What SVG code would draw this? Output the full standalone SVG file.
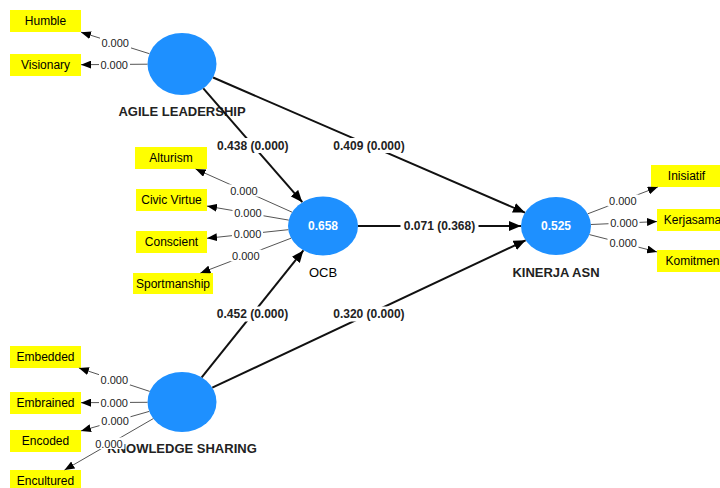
<svg xmlns="http://www.w3.org/2000/svg" width="720" height="488" viewBox="0 0 720 488">
<style>
text{font-family:"Liberation Sans",Arial,sans-serif;fill:#000}
.lv{fill:#1E90FF}
.ind{fill:#FFFF00}
.it{font-size:12px;text-anchor:middle}
.nl{font-size:13px;font-weight:bold;text-anchor:middle;fill:#222}
.r2{font-size:12px;font-weight:bold;text-anchor:middle;fill:#fff}
.ld{stroke:#555;stroke-width:1;fill:none;marker-end:url(#as)}
.pth{stroke:#111;stroke-width:2;fill:none;marker-end:url(#al)}
.lt{font-size:11px;text-anchor:middle;fill:#222}
.pt{font-size:12px;font-weight:bold;text-anchor:middle;fill:#222}
.bg{fill:#fff}
</style>
<defs>
<marker id="as" markerUnits="userSpaceOnUse" markerWidth="10" markerHeight="8" refX="10" refY="4" orient="auto">
<path d="M0,0 L10,4 L0,8 Z" fill="#000"/>
</marker>
<marker id="al" markerUnits="userSpaceOnUse" markerWidth="12" markerHeight="10" refX="12" refY="5" orient="auto">
<path d="M0,0 L12,5 L0,10 Z" fill="#000"/>
</marker>
</defs>
<rect width="720" height="488" fill="#fff"/>
<g id="nodes">
<g id="agile">
<ellipse class="lv" cx="182" cy="64" rx="34.5" ry="31"/>
<text class="nl" x="182" y="116">AGILE LEADERSHIP</text>
</g>
<g id="ocb">
<ellipse class="lv" cx="323" cy="226" rx="35" ry="29.5"/>
<text class="r2" x="323" y="230">0.658</text>
<text x="323" y="277" font-size="13" text-anchor="middle" fill="#222">OCB</text>
</g>
<g id="knowledge">
<ellipse class="lv" cx="182" cy="402" rx="34.5" ry="30"/>
<text class="nl" x="182" y="453">KNOWLEDGE SHARING</text>
</g>
<g id="kinerja">
<ellipse class="lv" cx="556" cy="226" rx="35" ry="29"/>
<text class="r2" x="556" y="230">0.525</text>
<text class="nl" x="556" y="277">KINERJA ASN</text>
</g>
<g id="humble"><rect class="ind" x="10" y="10" width="71" height="22"/><text class="it" x="45.5" y="25">Humble</text></g>
<g id="visionary"><rect class="ind" x="10" y="54" width="71" height="22"/><text class="it" x="45.5" y="69">Visionary</text></g>
<g id="alturism"><rect class="ind" x="135" y="147" width="72" height="22"/><text class="it" x="171" y="162">Alturism</text></g>
<g id="civic"><rect class="ind" x="136" y="189" width="71" height="22"/><text class="it" x="171.5" y="204">Civic Virtue</text></g>
<g id="conscient"><rect class="ind" x="136" y="231" width="71" height="22"/><text class="it" x="171.5" y="246">Conscient</text></g>
<g id="sportmanship"><rect class="ind" x="133" y="273" width="80" height="21"/><text class="it" x="173" y="288">Sportmanship</text></g>
<g id="embedded"><rect class="ind" x="10" y="346" width="71" height="22"/><text class="it" x="45.5" y="361">Embedded</text></g>
<g id="embrained"><rect class="ind" x="10" y="392" width="71" height="22"/><text class="it" x="45.5" y="407">Embrained</text></g>
<g id="encoded"><rect class="ind" x="10" y="430" width="71" height="22"/><text class="it" x="45.5" y="445">Encoded</text></g>
<g id="encultured"><rect class="ind" x="10" y="470" width="71" height="22"/><text class="it" x="45.5" y="485">Encultured</text></g>
<g id="inisiatif"><rect class="ind" x="651" y="165" width="71" height="22"/><text class="it" x="686.5" y="180">Inisiatif</text></g>
<g id="kerjasama"><rect class="ind" x="657" y="209" width="71" height="22"/><text class="it" x="692.5" y="224">Kerjasama</text></g>
<g id="komitmen"><rect class="ind" x="657" y="250" width="71" height="22"/><text class="it" x="692.5" y="265">Komitmen</text></g>
</g>
<g id="connectors">
<path class="ld" d="M149.4,53.7 L81,32.2"/>
<path class="ld" d="M147.5,64.2 L81,64.7"/>
<path class="ld" d="M292.1,212.2 L195.6,169"/>
<path class="ld" d="M288.7,220.1 L207,206.1"/>
<path class="ld" d="M288.3,229.7 L207,238.3"/>
<path class="ld" d="M291.1,238.2 L200.4,273"/>
<path class="ld" d="M149.7,391.4 L78.9,368"/>
<path class="ld" d="M147.5,402.3 L81,402.7"/>
<path class="ld" d="M149.2,411.4 L81,430.9"/>
<path class="ld" d="M153.3,418.6 L64.5,470"/>
<path class="ld" d="M587.8,213.8 L657.8,187"/>
<path class="ld" d="M590.9,224.5 L657,221.6"/>
<path class="ld" d="M589.4,234.6 L657,251.9"/>
<path class="pth" d="M203.3,88.4 L302.3,202.2"/>
<path class="pth" d="M213.1,77.5 L525,212.6"/>
<path class="pth" d="M358,226 L521,226"/>
<path class="pth" d="M201.7,377.4 L303.4,250.4"/>
<path class="pth" d="M212.3,387.7 L525.6,240.3"/>
<g id="loading-labels">
<rect class="bg" x="100" y="37" width="31" height="12"/><text class="lt" x="115.2" y="47">0.000</text>
<rect class="bg" x="99" y="58.5" width="31" height="12"/><text class="lt" x="114.2" y="68.5">0.000</text>
<rect class="bg" x="228.5" y="184.5" width="31" height="12"/><text class="lt" x="243.9" y="194.5">0.000</text>
<rect class="bg" x="232.5" y="207" width="31" height="12"/><text class="lt" x="247.9" y="217">0.000</text>
<rect class="bg" x="232" y="228" width="31" height="12"/><text class="lt" x="247.6" y="238">0.000</text>
<rect class="bg" x="230.5" y="249.5" width="31" height="12"/><text class="lt" x="245.8" y="259.5">0.000</text>
<rect class="bg" x="99" y="373.5" width="31" height="12"/><text class="lt" x="114.3" y="383.5">0.000</text>
<rect class="bg" x="99" y="396.5" width="31" height="12"/><text class="lt" x="114.2" y="406.5">0.000</text>
<rect class="bg" x="99.5" y="415" width="31" height="12"/><text class="lt" x="115.1" y="425">0.000</text>
<rect class="bg" x="93.5" y="437.5" width="31" height="11.5"/><text class="lt" x="108.9" y="448">0.000</text>
<rect class="bg" x="607.5" y="194.5" width="31" height="12"/><text class="lt" x="622.8" y="204.5">0.000</text>
<rect class="bg" x="608.5" y="217" width="31" height="12"/><text class="lt" x="624" y="227">0.000</text>
<rect class="bg" x="607.5" y="237" width="31" height="12"/><text class="lt" x="623.2" y="247">0.000</text>
</g>
<g id="path-labels">
<rect class="bg" x="214" y="138" width="78" height="15"/><text class="pt" x="252.8" y="149.5">0.438 (0.000)</text>
<rect class="bg" x="330" y="138" width="78" height="15"/><text class="pt" x="369" y="149.5">0.409 (0.000)</text>
<rect class="bg" x="400.5" y="218.5" width="78" height="15"/><text class="pt" x="439.5" y="230">0.071 (0.368)</text>
<rect class="bg" x="213.5" y="306.5" width="78" height="15"/><text class="pt" x="252.5" y="318">0.452 (0.000)</text>
<rect class="bg" x="330" y="306.5" width="78" height="15"/><text class="pt" x="368.9" y="318">0.320 (0.000)</text>
</g>
</g>
</svg>
